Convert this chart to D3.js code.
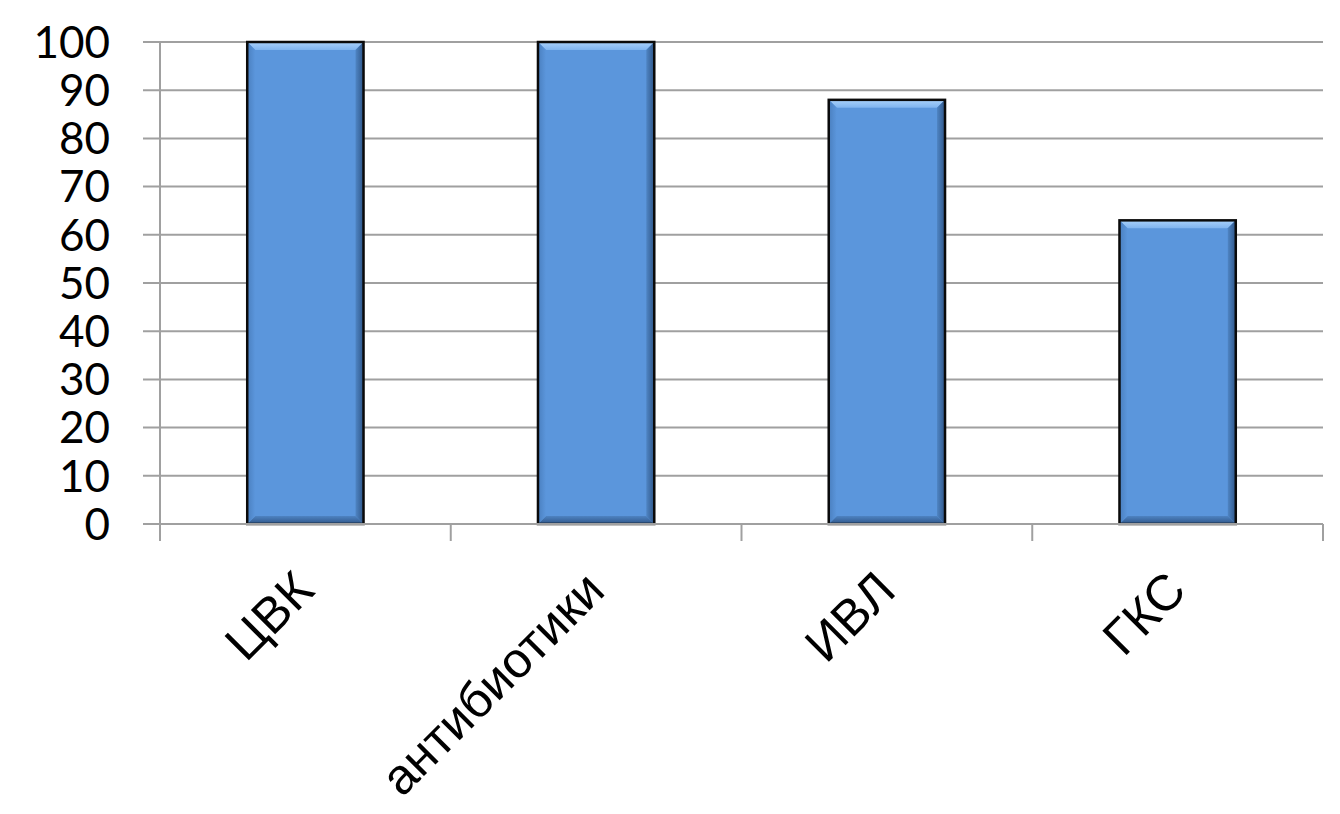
<!DOCTYPE html>
<html>
<head>
<meta charset="utf-8">
<script src="https://cdn.jsdelivr.net/npm/d3@7"></script>
<style>
  html, body { margin: 0; padding: 0; background: #fff; }
  svg { display: block; }
</style>
</head>
<body>
<svg id="chart" width="1340" height="814"></svg>
<script>
const categories = ["ЦВК", "антибиотики", "ИВЛ", "ГКС"];
const values = [100, 100, 88, 63];
const yTicks = [0, 10, 20, 30, 40, 50, 60, 70, 80, 90, 100];

const svg = d3.select("#chart");
const plot = { left: 160, right: 1323, top: 42, bottom: 524 };

const x = d3.scaleBand().domain(categories).range([plot.left, plot.right]).padding(0);
const y = d3.scaleLinear().domain([0, 100]).range([plot.bottom, plot.top]);

const gridColor = "#a0a0a0";

// horizontal gridlines (with ticks extending left)
svg.append("g").selectAll("line").data(yTicks).join("line")
  .attr("x1", plot.left - 17).attr("x2", plot.right)
  .attr("y1", d => y(d)).attr("y2", d => y(d))
  .attr("stroke", gridColor).attr("stroke-width", 2);

// vertical axis line
svg.append("line")
  .attr("x1", plot.left).attr("x2", plot.left)
  .attr("y1", y(100)).attr("y2", plot.bottom + 17)
  .attr("stroke", gridColor).attr("stroke-width", 2);

// category boundary ticks on x axis
const bounds = categories.map(c => x(c)).concat([x(categories[categories.length - 1]) + x.bandwidth()]);
svg.append("g").selectAll("line").data(bounds.slice(1)).join("line")
  .attr("x1", d => d).attr("x2", d => d)
  .attr("y1", plot.bottom).attr("y2", plot.bottom + 17)
  .attr("stroke", gridColor).attr("stroke-width", 2);

// y labels
svg.append("g").selectAll("text").data(yTicks).join("text")
  .attr("x", 110).attr("y", d => y(d))
  .attr("dy", "0.36em")
  .attr("text-anchor", "end")
  .attr("font-family", "Lato, 'Open Sans', sans-serif")
  .attr("font-size", 44)
  .attr("fill", "#000")
  .text(d => d);

// gradients for bevel
const defs = svg.append("defs");
const gTop = defs.append("linearGradient").attr("id", "gTop").attr("x1", 0).attr("y1", 0).attr("x2", 0).attr("y2", 1);
gTop.append("stop").attr("offset", "0%").attr("stop-color", "#a9d1fb");
gTop.append("stop").attr("offset", "100%").attr("stop-color", "#7fb4ef");
const gRight = defs.append("linearGradient").attr("id", "gRight").attr("x1", 0).attr("y1", 0).attr("x2", 1).attr("y2", 0);
gRight.append("stop").attr("offset", "0%").attr("stop-color", "#4f85c4");
gRight.append("stop").attr("offset", "100%").attr("stop-color", "#2f5688");
const gBottom = defs.append("linearGradient").attr("id", "gBottom").attr("x1", 0).attr("y1", 0).attr("x2", 0).attr("y2", 1);
gBottom.append("stop").attr("offset", "0%").attr("stop-color", "#4e83c2");
gBottom.append("stop").attr("offset", "100%").attr("stop-color", "#2f5688");
const gLeft = defs.append("linearGradient").attr("id", "gLeft").attr("x1", 0).attr("y1", 0).attr("x2", 1).attr("y2", 0);
gLeft.append("stop").attr("offset", "0%").attr("stop-color", "#4a7fbf");
gLeft.append("stop").attr("offset", "100%").attr("stop-color", "#5b96dc");

const barFrac = 0.4;
const bw = x.bandwidth() * barFrac;
const bev = 8;

const bars = svg.append("g").selectAll("g").data(categories.map((c, i) => ({ c, v: values[i] }))).join("g");
bars.each(function (d) {
  const g = d3.select(this);
  const x0 = x(d.c) + (x.bandwidth() - bw) / 2;
  const x1 = x0 + bw;
  const y0 = y(d.v);
  const y1 = y(0);
  g.append("rect").attr("x", x0).attr("y", y0).attr("width", bw).attr("height", y1 - y0).attr("fill", "#5b96dc");
  // top bevel
  g.append("path").attr("d", `M${x0},${y0}L${x1},${y0}L${x1 - bev},${y0 + bev}L${x0 + bev},${y0 + bev}Z`).attr("fill", "url(#gTop)");
  // right bevel
  g.append("path").attr("d", `M${x1},${y0}L${x1},${y1}L${x1 - bev},${y1 - bev}L${x1 - bev},${y0 + bev}Z`).attr("fill", "url(#gRight)");
  // bottom bevel
  g.append("path").attr("d", `M${x0},${y1}L${x1},${y1}L${x1 - bev},${y1 - bev}L${x0 + bev},${y1 - bev}Z`).attr("fill", "url(#gBottom)");
  // left bevel
  g.append("path").attr("d", `M${x0},${y0}L${x0 + bev},${y0 + bev}L${x0 + bev},${y1 - bev}L${x0},${y1}Z`).attr("fill", "url(#gLeft)");
  g.append("rect").attr("x", x0).attr("y", y0).attr("width", bw).attr("height", y1 - y0)
    .attr("fill", "none").attr("stroke", "#0a0a0a").attr("stroke-width", 2.5);
});

// bottom axis line drawn over bars' bottom
svg.append("line")
  .attr("x1", plot.left).attr("x2", plot.right)
  .attr("y1", plot.bottom).attr("y2", plot.bottom)
  .attr("stroke", gridColor).attr("stroke-width", 2);

// x labels
svg.append("g").selectAll("text").data(categories).join("text")
  .attr("transform", d => `translate(${x(d) + x.bandwidth() / 2 + 11},${593}) rotate(-45)`)
  .attr("text-anchor", "end")
  .attr("font-family", "'Liberation Sans', Arial, sans-serif")
  .attr("font-size", 50)
  .attr("fill", "#000")
  .text(d => d);
</script>
</body>
</html>
